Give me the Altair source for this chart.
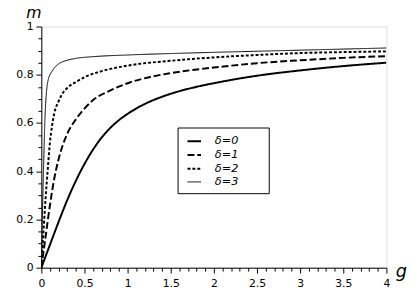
import altair as alt
import pandas as pd

# delta = 0
g0 = [0, 0.1, 0.2, 0.3, 0.4, 0.5, 0.6, 0.7, 0.8, 0.9, 1.0, 1.2, 1.4, 1.6, 1.8, 2.0, 2.5, 3.0, 3.5, 4.0]
m0 = [0, 0.095, 0.19, 0.28, 0.36, 0.43, 0.49, 0.54, 0.58, 0.612, 0.638, 0.679, 0.709, 0.732, 0.75, 0.765, 0.796, 0.818, 0.836, 0.85]
# delta = 1
g1 = [0, 0.05, 0.1, 0.15, 0.2, 0.25, 0.3, 0.4, 0.5, 0.6, 0.8, 1.0, 1.25, 1.5, 2.0, 2.5, 3.0, 3.5, 4.0]
m1 = [0, 0.13, 0.26, 0.37, 0.45, 0.51, 0.555, 0.615, 0.66, 0.695, 0.735, 0.765, 0.79, 0.807, 0.83, 0.848, 0.86, 0.87, 0.877]
# delta = 2
g2 = [0, 0.025, 0.05, 0.075, 0.1, 0.125, 0.15, 0.2, 0.25, 0.3, 0.4, 0.5, 0.7, 1.0, 1.5, 2.0, 2.5, 3.0, 3.5, 4.0]
m2 = [0, 0.15, 0.29, 0.41, 0.52, 0.59, 0.64, 0.69, 0.725, 0.745, 0.77, 0.79, 0.815, 0.838, 0.858, 0.872, 0.882, 0.89, 0.894, 0.897]
# delta = 3
g3 = [0, 0.01, 0.02, 0.03, 0.04, 0.05, 0.06, 0.08, 0.1, 0.125, 0.15, 0.2, 0.3, 0.4, 0.6, 1.0, 1.5, 2.0, 3.0, 4.0]
m3 = [0, 0.17, 0.33, 0.47, 0.6, 0.68, 0.73, 0.78, 0.80, 0.815, 0.828, 0.845, 0.86, 0.868, 0.875, 0.882, 0.888, 0.893, 0.902, 0.911]

labels = ["δ=0", "δ=1", "δ=2", "δ=3"]
widths = [2, 2, 2, 1]
dashes = [[1, 0], [7, 3], [3, 2], [1, 0]]
series = [(g0, m0), (g1, m1), (g2, m2), (g3, m3)]

x_ticks = [round(i * 0.1, 1) for i in range(41)]
y_ticks = [round(i * 0.05, 2) for i in range(21)]

rows = []
for lab, (gs, ms) in zip(labels, series):
    for gv, mv in zip(gs, ms):
        rows.append({"delta": lab, "g": gv, "m": mv})
df = pd.DataFrame(rows)

FONT = "DejaVu Sans"

x_axis = alt.Axis(
    values=x_ticks,
    grid=False,
    domainColor="black",
    tickColor="black",
    tickSize={"condition": {"test": "abs(datum.value*2 - round(datum.value*2)) < 1e-6", "value": 5.5}, "value": 3.5},
    labelExpr="abs(datum.value*2 - round(datum.value*2)) < 1e-6 ? '' + round(datum.value*10)/10 : ''",
    labelFont=FONT,
    labelFontSize=11,
    labelColor="black",
    labelPadding=5,
    labelFlush=False,
    labelOverlap=False,
    title="g",
    titleFont=FONT,
    titleFontSize=18,
    titleFontStyle="italic",
    titleFontWeight="normal",
    titleColor="black",
    titleX=361,
    titleY=9,
    titleAlign="left",
    titleBaseline="alphabetic",
    titleAngle=0,
)
y_axis = alt.Axis(
    values=y_ticks,
    grid=False,
    domainColor="black",
    tickColor="black",
    tickSize={"condition": {"test": "abs(datum.value*5 - round(datum.value*5)) < 1e-6", "value": 5.5}, "value": 3.5},
    labelExpr="abs(datum.value*5 - round(datum.value*5)) < 1e-6 ? '' + round(datum.value*10)/10 : ''",
    labelFont=FONT,
    labelFontSize=11,
    labelColor="black",
    labelPadding=3,
    labelFlush=False,
    labelOverlap=False,
    title="m",
    titleFont=FONT,
    titleFontSize=16,
    titleFontStyle="italic",
    titleFontWeight="normal",
    titleColor="black",
    titleX=-8,
    titleY=-9,
    titleAlign="center",
    titleBaseline="alphabetic",
    titleAngle=0,
)

legend = alt.Legend(
    title="\u2003",
    titleOrient="right",
    titleFontSize=11.5,
    titlePadding=25,
    titleFont=FONT,
    orient="none",
    legendX=139,
    legendY=103,
    symbolType="stroke",
    symbolSize=190,
    symbolStrokeColor="black",
    symbolOffset=3,
    labelFont=FONT,
    labelFontSize=11.5,
    labelFontStyle="italic",
    labelColor="black",
    strokeColor="black",
    fillColor="white",
    padding=6,
    rowPadding=0,
    labelOffset=13,
    cornerRadius=0,
)

chart = alt.Chart(df).mark_line(interpolate="monotone", color="black", clip=True).encode(
    x=alt.X("g:Q", scale=alt.Scale(domain=[0, 4], nice=False, zero=False), axis=x_axis),
    y=alt.Y("m:Q", scale=alt.Scale(domain=[0, 1], nice=False), axis=y_axis),
    strokeDash=alt.StrokeDash("delta:N", scale=alt.Scale(domain=labels, range=dashes), legend=legend),
    strokeWidth=alt.StrokeWidth("delta:N", scale=alt.Scale(type="ordinal", domain=labels, range=widths), legend=legend),
    detail="delta:N",
).properties(
    width=352,
    height=246,
    padding={"left": 34, "top": 16, "right": 21, "bottom": 28},
    autosize=alt.AutoSizeParams(type="none"),
).configure_view(stroke=None).configure(background="white")

chart.save("out.html", embed_options={"renderer": "svg", "actions": False})
